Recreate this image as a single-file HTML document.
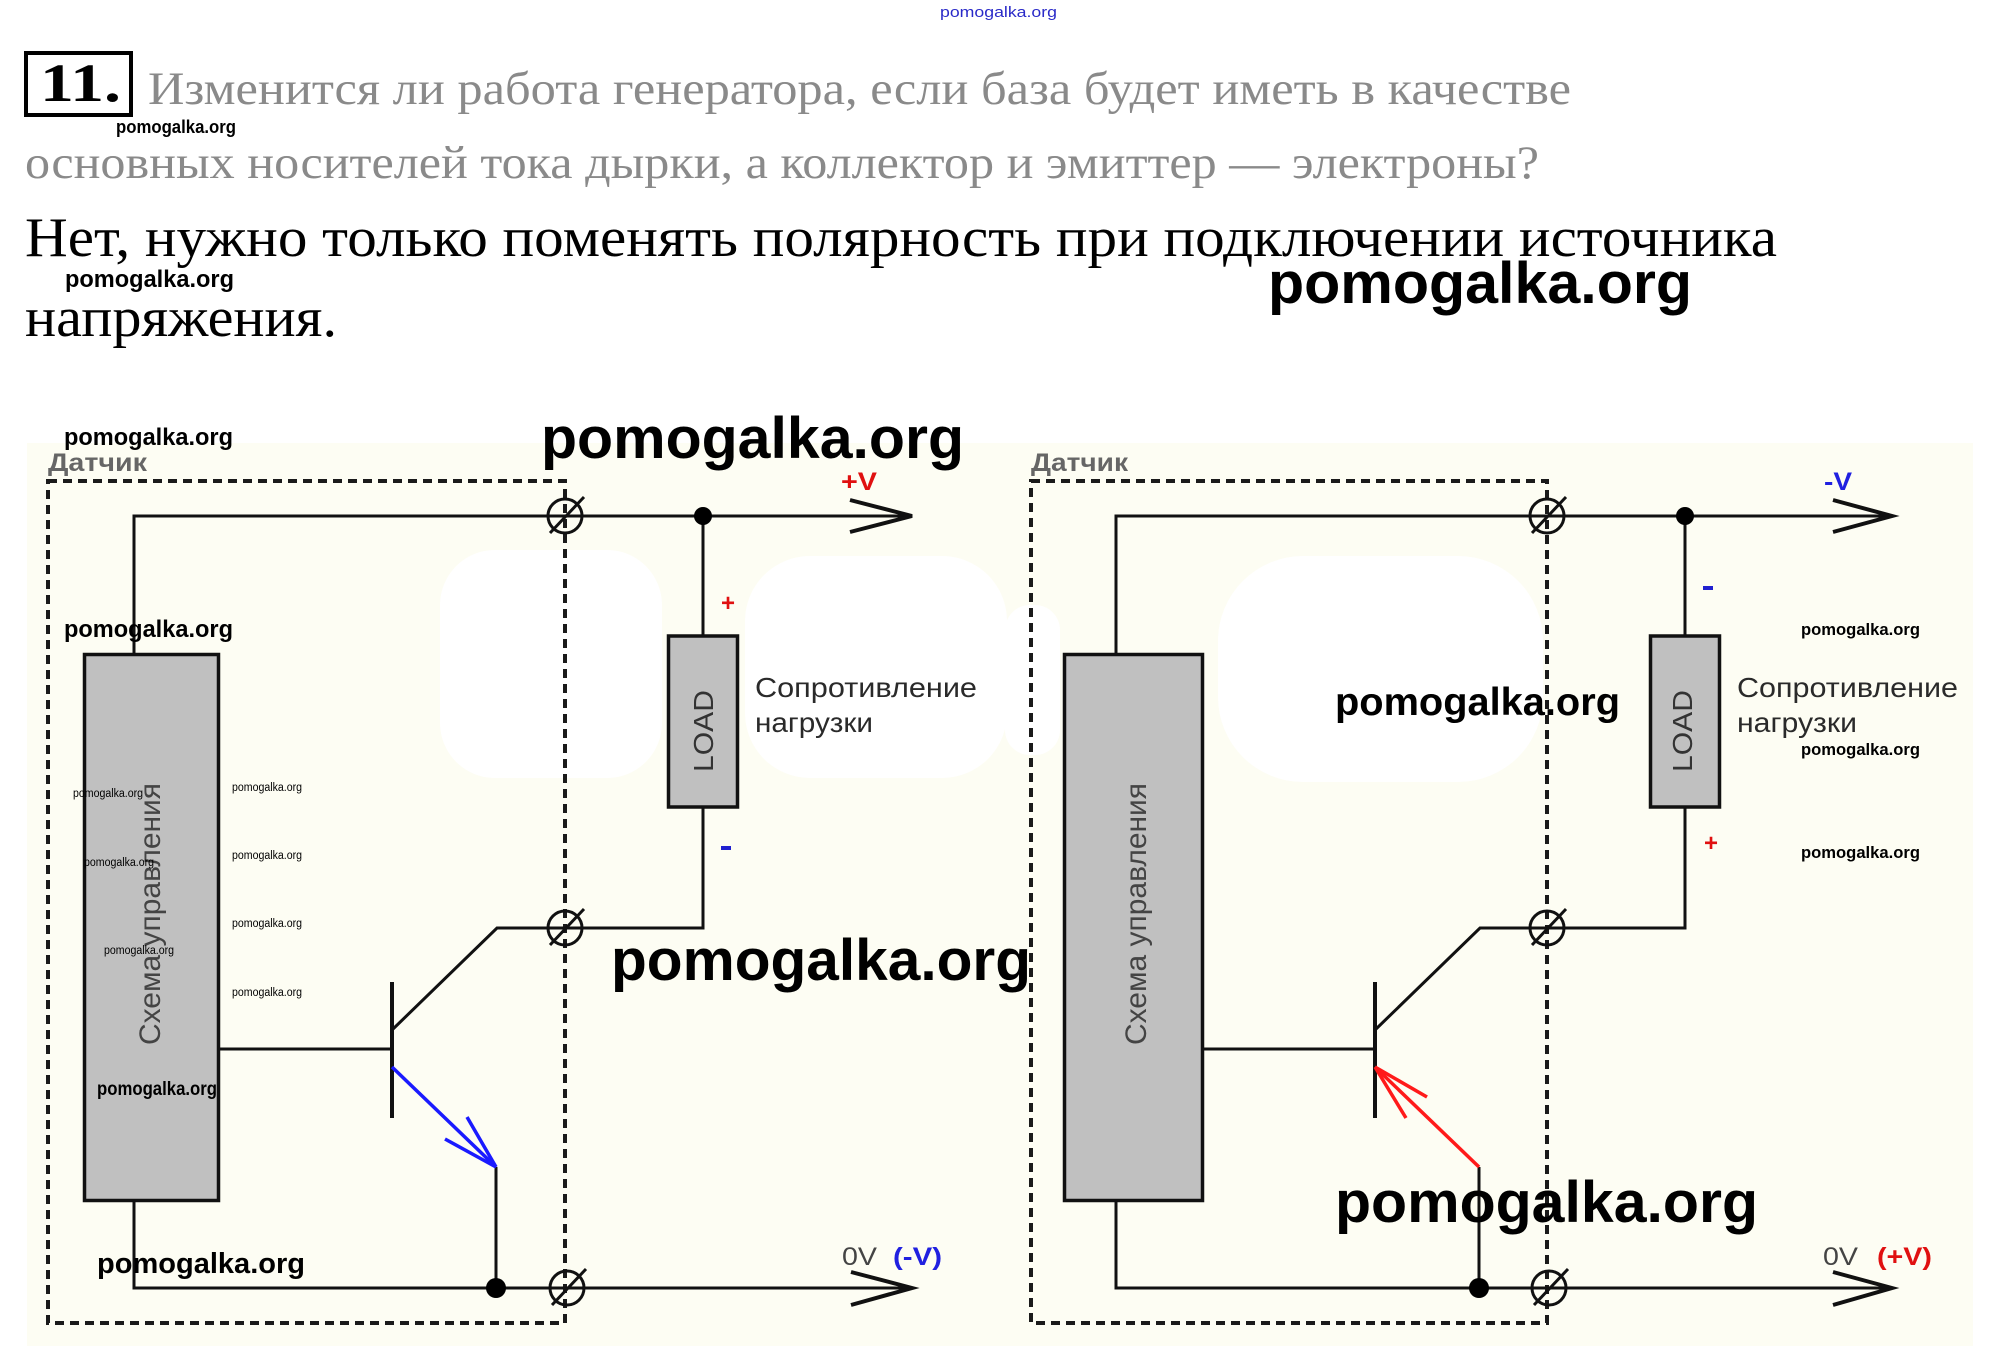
<!DOCTYPE html>
<html>
<head>
<meta charset="utf-8">
<style>
html,body{margin:0;padding:0;background:#fff;}
svg{display:block;}
</style>
</head>
<body>
<svg width="1991" height="1346" viewBox="0 0 1991 1346" xmlns="http://www.w3.org/2000/svg">
  <rect x="0" y="0" width="1991" height="1346" fill="#ffffff"/>

  <!-- header texts -->
  <text x="940" y="17" font-family="Liberation Sans, sans-serif" font-size="15" fill="#2a2ac8" textLength="117" lengthAdjust="spacingAndGlyphs">pomogalka.org</text>

  <rect x="26" y="53" width="105" height="62" fill="none" stroke="#000" stroke-width="4"/>
  <text x="40" y="101" font-family="Liberation Serif, serif" font-weight="bold" font-size="54" fill="#000" textLength="81" lengthAdjust="spacingAndGlyphs">11.</text>

  <text x="148" y="104" font-family="Liberation Serif, serif" font-size="47" fill="#8a8a8a" textLength="1423" lengthAdjust="spacingAndGlyphs">Изменится ли работа генератора, если база будет иметь в качестве</text>
  <text x="116" y="133" font-family="Liberation Sans, sans-serif" font-weight="bold" font-size="18" fill="#000" textLength="120" lengthAdjust="spacingAndGlyphs">pomogalka.org</text>
  <text x="25" y="178" font-family="Liberation Serif, serif" font-size="47" fill="#8a8a8a" textLength="1514" lengthAdjust="spacingAndGlyphs">основных носителей тока дырки, а коллектор и эмиттер — электроны?</text>

  <text x="25" y="256" font-family="Liberation Serif, serif" font-size="56" fill="#000" textLength="1752" lengthAdjust="spacingAndGlyphs">Нет, нужно только поменять полярность при подключении источника</text>
  <text x="65" y="287" font-family="Liberation Sans, sans-serif" font-weight="bold" font-size="24" fill="#000" textLength="169" lengthAdjust="spacingAndGlyphs">pomogalka.org</text>
  <text x="1268" y="303" font-family="Liberation Sans, sans-serif" font-weight="bold" font-size="58" fill="#000" textLength="424" lengthAdjust="spacingAndGlyphs">pomogalka.org</text>
  <text x="25" y="336" font-family="Liberation Serif, serif" font-size="56" fill="#000" textLength="312" lengthAdjust="spacingAndGlyphs">напряжения.</text>

  <!-- diagram background -->
  <rect x="27" y="443" width="1946" height="903" fill="#fdfdf3"/>
  <!-- white watermark blobs -->
  <rect x="440" y="550" width="222" height="228" rx="55" fill="#ffffff"/>
  <rect x="745" y="556" width="262" height="222" rx="65" fill="#ffffff"/>
  <rect x="1005" y="605" width="55" height="150" rx="25" fill="#ffffff"/>
  <rect x="1218" y="556" width="325" height="226" rx="85" fill="#ffffff"/>

  <!-- LEFT CIRCUIT -->
  <g id="left">
    <path d="M48,481 H565 V1323 H48 Z" fill="none" stroke="#1a1a1a" stroke-width="4" stroke-dasharray="9 6"/>
    <text x="48" y="471" font-family="Liberation Sans, sans-serif" font-weight="bold" font-size="25" fill="#666" textLength="99" lengthAdjust="spacingAndGlyphs">Датчик</text>

    <polyline points="134,653 134,516 912,516" fill="none" stroke="#111" stroke-width="3"/>
    <rect x="84.5" y="654.5" width="134" height="546" fill="#c0c0c0" stroke="#111" stroke-width="3.5"/>
    <text transform="translate(160,1045) rotate(-90)" font-family="Liberation Sans, sans-serif" font-size="30" fill="#444" textLength="262" lengthAdjust="spacingAndGlyphs">Схема управления</text>

    <line x1="703" y1="516" x2="703" y2="636" stroke="#111" stroke-width="3"/>
    <rect x="668.5" y="636" width="69" height="171" fill="#c0c0c0" stroke="#111" stroke-width="3.5"/>
    <text transform="translate(713,772) rotate(-90)" font-family="Liberation Sans, sans-serif" font-size="28" fill="#333" textLength="82" lengthAdjust="spacingAndGlyphs">LOAD</text>
    <polyline points="703,807 703,928 497,928 392,1030" fill="none" stroke="#111" stroke-width="3"/>

    <line x1="392" y1="982" x2="392" y2="1118" stroke="#111" stroke-width="4"/>
    <line x1="220" y1="1049" x2="392" y2="1049" stroke="#111" stroke-width="3"/>
    <polyline points="134,1202 134,1288 912,1288" fill="none" stroke="#111" stroke-width="3"/>
    <line x1="496" y1="1167" x2="496" y2="1288" stroke="#111" stroke-width="3"/>

    <circle cx="703" cy="516" r="9" fill="#000"/>
    <circle cx="496" cy="1288" r="10" fill="#000"/>

    <g fill="none" stroke="#111" stroke-width="3">
      <circle cx="565" cy="516" r="17"/><line x1="550" y1="533" x2="584" y2="497"/>
      <circle cx="565" cy="928" r="17"/><line x1="550" y1="945" x2="584" y2="909"/>
      <circle cx="567" cy="1288" r="17"/><line x1="552" y1="1305" x2="586" y2="1269"/>
    </g>

    <polyline points="850,500 912,516 850,532" fill="none" stroke="#111" stroke-width="4"/>
    <polyline points="851,1272 912,1288 851,1305" fill="none" stroke="#111" stroke-width="4"/>

    <text x="755" y="697" font-family="Liberation Sans, sans-serif" font-size="28" fill="#2a2a2a" textLength="222" lengthAdjust="spacingAndGlyphs">Сопротивление</text>
    <text x="755" y="732" font-family="Liberation Sans, sans-serif" font-size="28" fill="#2a2a2a" textLength="118" lengthAdjust="spacingAndGlyphs">нагрузки</text>
  </g>

  <!-- left-specific -->
  <line x1="392" y1="1067" x2="496" y2="1167" stroke="#1a1aff" stroke-width="3.5"/>
  <line x1="496" y1="1167" x2="467" y2="1117" stroke="#1a1aff" stroke-width="3.5"/>
  <line x1="496" y1="1167" x2="445" y2="1139" stroke="#1a1aff" stroke-width="3.5"/>
  <text x="841" y="490" font-family="Liberation Sans, sans-serif" font-weight="bold" font-size="25" fill="#e01010" textLength="36" lengthAdjust="spacingAndGlyphs">+V</text>
  <text x="728" y="611" text-anchor="middle" font-family="Liberation Sans, sans-serif" font-weight="bold" font-size="24" fill="#e01010">+</text>
  <rect x="721" y="846" width="10" height="4" fill="#2020d0"/>
  <text x="842" y="1265" font-family="Liberation Sans, sans-serif" font-size="25" fill="#444" textLength="35" lengthAdjust="spacingAndGlyphs">0V</text>
  <text x="893" y="1265" font-family="Liberation Sans, sans-serif" font-weight="bold" font-size="25" fill="#2020e0" textLength="49" lengthAdjust="spacingAndGlyphs">(-V)</text>

  <!-- RIGHT CIRCUIT -->
  <g transform="translate(982,0)">
    <path d="M49,481 H565 V1323 H49 Z" fill="none" stroke="#1a1a1a" stroke-width="4" stroke-dasharray="9 6"/>
    <text x="49" y="471" font-family="Liberation Sans, sans-serif" font-weight="bold" font-size="25" fill="#666" textLength="97" lengthAdjust="spacingAndGlyphs">Датчик</text>

    <polyline points="134,653 134,516 910,516" fill="none" stroke="#111" stroke-width="3"/>
    <rect x="82.5" y="654.5" width="138" height="546" fill="#c0c0c0" stroke="#111" stroke-width="3.5"/>
    <text transform="translate(164,1045) rotate(-90)" font-family="Liberation Sans, sans-serif" font-size="30" fill="#444" textLength="262" lengthAdjust="spacingAndGlyphs">Схема управления</text>

    <line x1="703" y1="516" x2="703" y2="636" stroke="#111" stroke-width="3"/>
    <rect x="668.5" y="636" width="69" height="171" fill="#c0c0c0" stroke="#111" stroke-width="3.5"/>
    <text transform="translate(710,772) rotate(-90)" font-family="Liberation Sans, sans-serif" font-size="28" fill="#333" textLength="82" lengthAdjust="spacingAndGlyphs">LOAD</text>
    <polyline points="703,807 703,928 498,928 393,1030" fill="none" stroke="#111" stroke-width="3"/>

    <line x1="393" y1="982" x2="393" y2="1118" stroke="#111" stroke-width="4"/>
    <line x1="221" y1="1049" x2="393" y2="1049" stroke="#111" stroke-width="3"/>
    <polyline points="134,1202 134,1288 910,1288" fill="none" stroke="#111" stroke-width="3"/>
    <line x1="497" y1="1167" x2="497" y2="1288" stroke="#111" stroke-width="3"/>

    <circle cx="703" cy="516" r="9" fill="#000"/>
    <circle cx="497" cy="1288" r="10" fill="#000"/>

    <g fill="none" stroke="#111" stroke-width="3">
      <circle cx="565" cy="516" r="17"/><line x1="550" y1="533" x2="584" y2="497"/>
      <circle cx="565" cy="928" r="17"/><line x1="550" y1="945" x2="584" y2="909"/>
      <circle cx="567" cy="1288" r="17"/><line x1="552" y1="1305" x2="586" y2="1269"/>
    </g>

    <polyline points="851,500 910,516 851,532" fill="none" stroke="#111" stroke-width="4"/>
    <polyline points="851,1272 910,1288 851,1305" fill="none" stroke="#111" stroke-width="4"/>

    <text x="755" y="697" font-family="Liberation Sans, sans-serif" font-size="28" fill="#2a2a2a" textLength="221" lengthAdjust="spacingAndGlyphs">Сопротивление</text>
    <text x="755" y="732" font-family="Liberation Sans, sans-serif" font-size="28" fill="#2a2a2a" textLength="120" lengthAdjust="spacingAndGlyphs">нагрузки</text>
  </g>

  <!-- right-specific -->
  <line x1="1479" y1="1167" x2="1375" y2="1067" stroke="#ff1a1a" stroke-width="3.5"/>
  <line x1="1375" y1="1067" x2="1427" y2="1097" stroke="#ff1a1a" stroke-width="3.5"/>
  <line x1="1375" y1="1067" x2="1406" y2="1118" stroke="#ff1a1a" stroke-width="3.5"/>
  <text x="1824" y="490" font-family="Liberation Sans, sans-serif" font-weight="bold" font-size="25" fill="#2020e0" textLength="28" lengthAdjust="spacingAndGlyphs">-V</text>
  <rect x="1703" y="586" width="10" height="4" fill="#2020d0"/>
  <text x="1711" y="851" text-anchor="middle" font-family="Liberation Sans, sans-serif" font-weight="bold" font-size="24" fill="#e01010">+</text>
  <text x="1823" y="1265" font-family="Liberation Sans, sans-serif" font-size="25" fill="#444" textLength="35" lengthAdjust="spacingAndGlyphs">0V</text>
  <text x="1877" y="1265" font-family="Liberation Sans, sans-serif" font-weight="bold" font-size="25" fill="#e01010" textLength="55" lengthAdjust="spacingAndGlyphs">(+V)</text>

  <!-- diagram watermarks -->
  <g font-family="Liberation Sans, sans-serif" font-weight="bold" fill="#000">
    <text x="64" y="445" font-size="24" textLength="169" lengthAdjust="spacingAndGlyphs">pomogalka.org</text>
    <text x="64" y="637" font-size="24" textLength="169" lengthAdjust="spacingAndGlyphs">pomogalka.org</text>
    <text x="541" y="458" font-size="58" textLength="423" lengthAdjust="spacingAndGlyphs">pomogalka.org</text>
    <text x="611" y="980" font-size="58" textLength="420" lengthAdjust="spacingAndGlyphs">pomogalka.org</text>
    <text x="1335" y="1222" font-size="58" textLength="423" lengthAdjust="spacingAndGlyphs">pomogalka.org</text>
    <text x="1335" y="715" font-size="39" textLength="285" lengthAdjust="spacingAndGlyphs">pomogalka.org</text>
    <text x="97" y="1273" font-size="29" textLength="208" lengthAdjust="spacingAndGlyphs">pomogalka.org</text>
    <text x="97" y="1095" font-size="19" textLength="120" lengthAdjust="spacingAndGlyphs">pomogalka.org</text>
    <text x="1801" y="635" font-size="17" textLength="119" lengthAdjust="spacingAndGlyphs">pomogalka.org</text>
    <text x="1801" y="755" font-size="17" textLength="119" lengthAdjust="spacingAndGlyphs">pomogalka.org</text>
    <text x="1801" y="858" font-size="17" textLength="119" lengthAdjust="spacingAndGlyphs">pomogalka.org</text>
  </g>
  <g font-family="Liberation Sans, sans-serif" fill="#000" font-size="11.5">
    <text x="73" y="797" textLength="70" lengthAdjust="spacingAndGlyphs">pomogalka.org</text>
    <text x="84" y="866" textLength="70" lengthAdjust="spacingAndGlyphs">pomogalka.org</text>
    <text x="104" y="954" textLength="70" lengthAdjust="spacingAndGlyphs">pomogalka.org</text>
    <text x="232" y="791" textLength="70" lengthAdjust="spacingAndGlyphs">pomogalka.org</text>
    <text x="232" y="859" textLength="70" lengthAdjust="spacingAndGlyphs">pomogalka.org</text>
    <text x="232" y="927" textLength="70" lengthAdjust="spacingAndGlyphs">pomogalka.org</text>
    <text x="232" y="996" textLength="70" lengthAdjust="spacingAndGlyphs">pomogalka.org</text>
  </g>
</svg>
</body>
</html>
